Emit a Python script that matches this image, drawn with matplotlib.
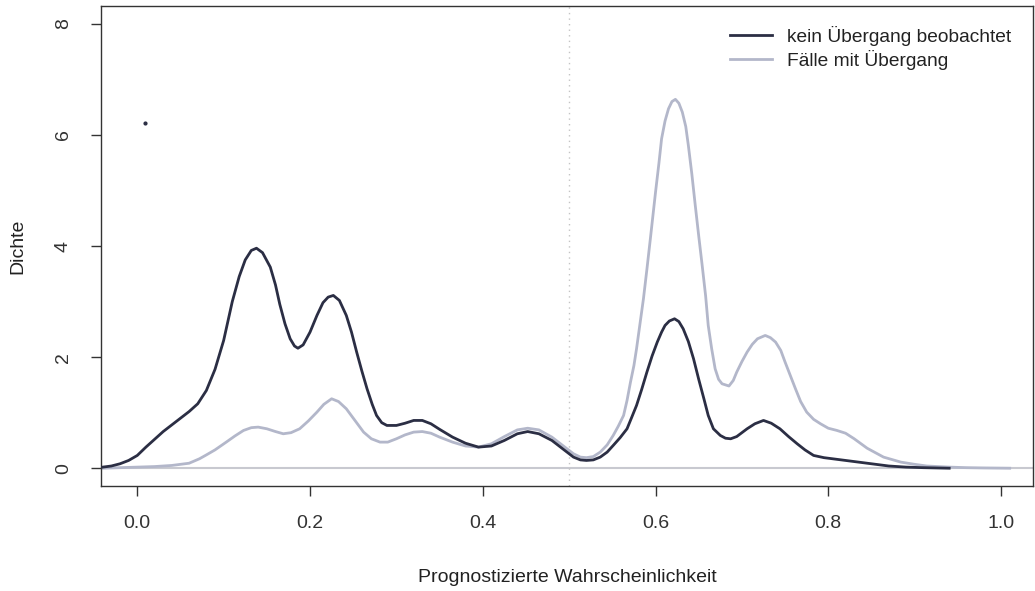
import matplotlib
matplotlib.use("Agg")
import matplotlib.pyplot as plt

# density of predicted probability
x_kein = [-0.04, -0.03, -0.02, -0.01, 0.0, 0.01, 0.02, 0.03, 0.04, 0.05, 0.06, 0.07, 0.08,
          0.09, 0.10, 0.11, 0.118, 0.125, 0.132, 0.138, 0.145, 0.154, 0.160, 0.165, 0.171,
          0.177, 0.182, 0.186, 0.192, 0.200, 0.208, 0.215, 0.221, 0.227, 0.234, 0.242,
          0.248, 0.254, 0.260, 0.266, 0.272, 0.277, 0.283, 0.289, 0.300, 0.31, 0.32, 0.33,
          0.34, 0.35, 0.365, 0.38, 0.395, 0.41, 0.425, 0.44, 0.452, 0.465, 0.48, 0.495,
          0.505, 0.513, 0.52, 0.528, 0.536, 0.544, 0.551, 0.559, 0.567, 0.572, 0.578,
          0.584, 0.590, 0.596, 0.602, 0.607, 0.611, 0.616, 0.622, 0.627, 0.632, 0.638,
          0.644, 0.650, 0.656, 0.661, 0.667, 0.675, 0.681, 0.687, 0.694, 0.700, 0.706,
          0.715, 0.725, 0.734, 0.744, 0.754, 0.764, 0.773, 0.783, 0.795, 0.81, 0.83, 0.85,
          0.87, 0.89, 0.91, 0.94]
y_kein = [0.02, 0.04, 0.08, 0.14, 0.23, 0.38, 0.52, 0.66, 0.78, 0.90, 1.02, 1.16, 1.40,
          1.78, 2.30, 3.00, 3.45, 3.75, 3.92, 3.96, 3.88, 3.62, 3.30, 2.95, 2.60,
          2.33, 2.20, 2.16, 2.22, 2.45, 2.75, 2.98, 3.08, 3.11, 3.02, 2.75,
          2.45, 2.09, 1.75, 1.43, 1.15, 0.95, 0.82, 0.77, 0.77, 0.81, 0.86, 0.86,
          0.80, 0.70, 0.56, 0.45, 0.38, 0.40, 0.50, 0.62, 0.66, 0.62, 0.50, 0.32,
          0.20, 0.15, 0.14, 0.15, 0.20, 0.29, 0.41, 0.55, 0.71, 0.90, 1.13,
          1.42, 1.73, 2.02, 2.27, 2.45, 2.57, 2.65, 2.69, 2.64, 2.51, 2.28,
          1.97, 1.60, 1.25, 0.95, 0.71, 0.59, 0.54, 0.53, 0.57, 0.64, 0.71,
          0.80, 0.86, 0.81, 0.71, 0.57, 0.44, 0.33, 0.23, 0.19, 0.16, 0.12, 0.08,
          0.04, 0.02, 0.01, 0.0]

x_mit = [-0.04, -0.02, 0.0, 0.02, 0.04, 0.06, 0.072, 0.08, 0.09, 0.103, 0.113, 0.123, 0.132,
         0.140, 0.150, 0.160, 0.169, 0.178, 0.188, 0.198, 0.208, 0.216, 0.225, 0.233, 0.242,
         0.252, 0.262, 0.271, 0.281, 0.290, 0.300, 0.31, 0.32, 0.33, 0.34, 0.35, 0.365,
         0.38, 0.395, 0.41, 0.425, 0.44, 0.452, 0.465, 0.48, 0.495, 0.505, 0.513, 0.52,
         0.528, 0.536, 0.544, 0.551, 0.557, 0.563, 0.567, 0.571, 0.575, 0.578, 0.582,
         0.586, 0.590, 0.594, 0.597, 0.600, 0.604, 0.607, 0.611, 0.615, 0.619, 0.623,
         0.627, 0.631, 0.635, 0.638, 0.642, 0.646, 0.650, 0.654, 0.658, 0.661, 0.665,
         0.669, 0.673, 0.677, 0.685, 0.690, 0.694, 0.700, 0.706, 0.712, 0.718, 0.727,
         0.733, 0.739, 0.745, 0.750, 0.756, 0.762, 0.768, 0.775, 0.783, 0.791, 0.80, 0.81,
         0.82, 0.83, 0.845, 0.864, 0.884, 0.90, 0.914, 0.94, 0.96, 0.98, 1.01]
y_mit = [0.0, 0.01, 0.02, 0.03, 0.05, 0.09, 0.17, 0.24, 0.33, 0.47, 0.58, 0.68, 0.73,
         0.74, 0.71, 0.66, 0.62, 0.64, 0.71, 0.85, 1.01, 1.15, 1.25, 1.20, 1.07,
         0.86, 0.65, 0.53, 0.47, 0.47, 0.53, 0.60, 0.65, 0.66, 0.63, 0.56, 0.47,
         0.40, 0.38, 0.44, 0.57, 0.69, 0.72, 0.69, 0.56, 0.38, 0.26, 0.20, 0.19,
         0.21, 0.29, 0.42, 0.59, 0.76, 0.95, 1.22, 1.55, 1.85, 2.15, 2.60,
         3.05, 3.58, 4.13, 4.55, 4.97, 5.50, 5.93, 6.25, 6.47, 6.60, 6.64,
         6.57, 6.41, 6.15, 5.81, 5.30, 4.73, 4.18, 3.65, 3.10, 2.57, 2.15,
         1.79, 1.60, 1.52, 1.48, 1.58, 1.73, 1.92, 2.09, 2.23, 2.33, 2.39,
         2.35, 2.27, 2.12, 1.91, 1.67, 1.43, 1.20, 1.01, 0.88, 0.80, 0.72, 0.68,
         0.63, 0.53, 0.36, 0.20, 0.11, 0.07, 0.04, 0.02, 0.01, 0.005, 0.0]

labels = ["kein Übergang beobachtet", "Fälle mit Übergang"]
dark = "#2b2e44"
light = "#b3b7ca"

plt.rcParams["font.family"] = ["Liberation Sans", "DejaVu Sans"]
plt.rcParams["font.size"] = 14

fig = plt.figure(figsize=(10.35, 5.91), dpi=100)
ax = fig.add_axes([101 / 1035, 105 / 591, 932 / 1035, 480 / 591])

ax.axhline(0, color="#c8c9d0", lw=1.5, zorder=1)
ax.axvline(0.5, color="#c4c4c4", lw=1, ls=(0, (1, 3)), zorder=1)
ax.plot(x_kein, y_kein, color=dark, lw=2, label=labels[0], zorder=3)
ax.plot(x_mit, y_mit, color=light, lw=2, label=labels[1], zorder=2)
ax.plot([0.009], [6.22], "o", color=dark, ms=2)

ax.set_xlim(-0.042, 1.037)
ax.set_ylim(-0.32, 8.32)
ax.set_xticks([0.0, 0.2, 0.4, 0.6, 0.8, 1.0])
ax.set_xticklabels(["0.0", "0.2", "0.4", "0.6", "0.8", "1.0"])
ax.set_yticks([0, 2, 4, 6, 8])
ax.set_yticklabels(["0", "2", "4", "6", "8"], rotation=90, va="center")
ax.tick_params(length=7, width=1, color="#333333", labelcolor="#333333", pad=14)
for s in ax.spines.values():
    s.set_color("#333333")
    s.set_linewidth(1)

fig.text(567 / 1035, 1 - 578 / 591, "Prognostizierte Wahrscheinlichkeit",
         ha="center", va="center", color="#222222")
fig.text(18 / 1035, 1 - 246 / 591, "Dichte", rotation=90,
         ha="center", va="center", color="#222222")

ax.legend(loc="upper left", bbox_to_anchor=(722 / 1035, 1 - 18 / 591),
          bbox_transform=fig.transFigure, frameon=False, handlelength=2.2,
          handletextpad=0.8, labelspacing=0.2, borderaxespad=0, fontsize=13.8,
          labelcolor="#222222")

fig.savefig("out.png", dpi=100)
